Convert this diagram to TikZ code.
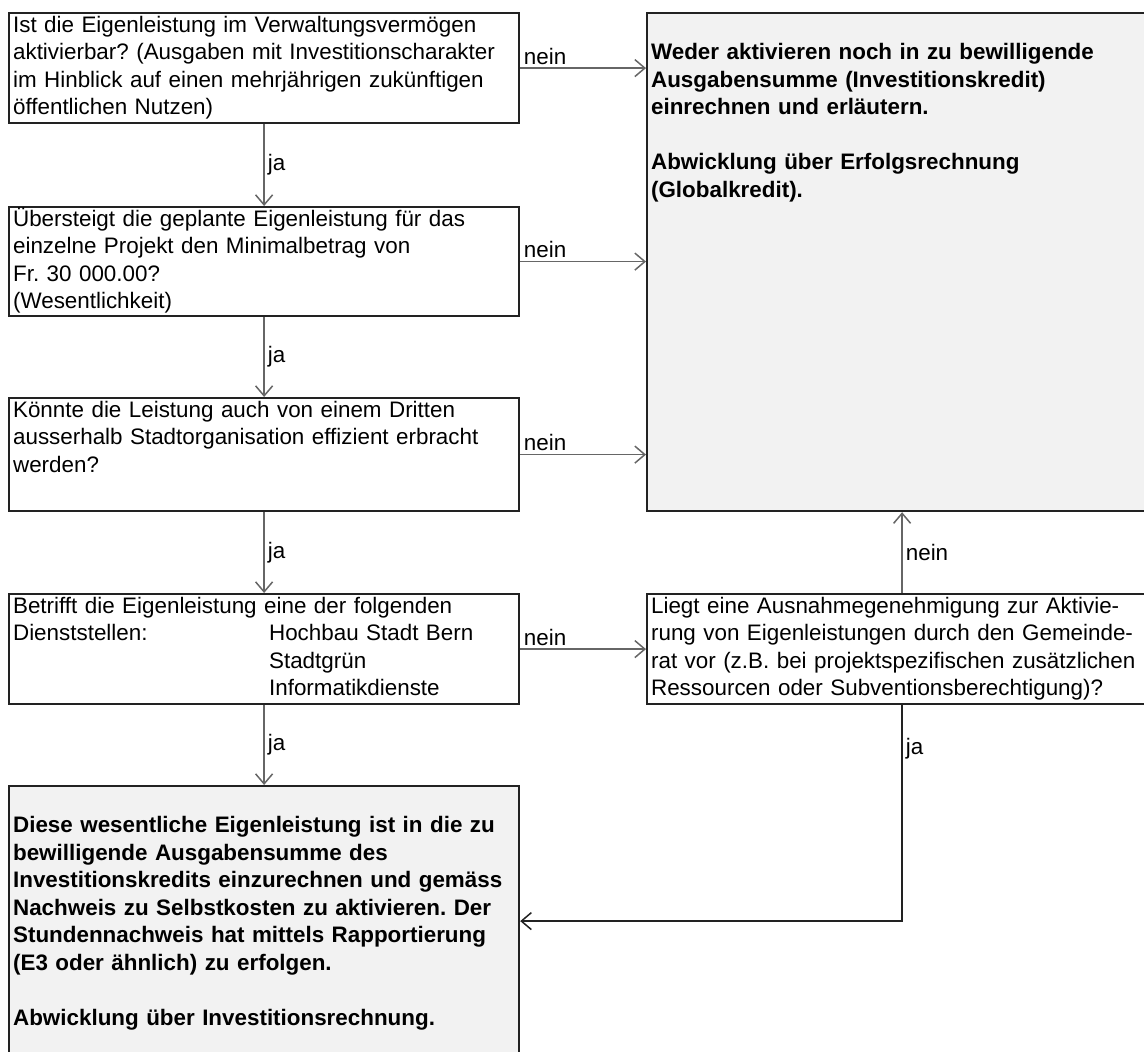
\documentclass[tikz,border=0pt]{standalone}
\usepackage{fontspec}
\setmainfont{Liberation Sans}
\usepackage{tikz}
\usetikzlibrary{arrows.meta}
\usetikzlibrary{positioning}
\frenchspacing

\definecolor{boxgray}{HTML}{F2F2F2}
\definecolor{boxline}{HTML}{222222}
\definecolor{linegray}{HTML}{666666}

\newcommand{\flowfont}{\fontsize{11.2}{13.75}\selectfont}

\tikzset{
  qbox/.style={draw=boxline, line width=1.1pt, anchor=north west, align=left,
    inner xsep=2pt, inner ysep=1pt, text width=251pt,
    text height=8.5pt, text depth=#1, font=\flowfont},
  abox/.style={qbox=#1, fill=boxgray, font=\flowfont\bfseries},
  arr/.style={draw=linegray, line width=0.75pt, -{Straight Barb[length=5pt, width=8.5pt]}},
  lbl/.style={inner sep=1.5pt, font=\flowfont}
}

\begin{document}
\begin{tikzpicture}[x=0.5pt, y=-0.5pt]
    \useasboundingbox (0, 0) rectangle (1144, 1052);

    % questions on the left
    \node[qbox=44.5pt] (q1) at (8, 12) {Ist die Eigenleistung im Verwaltungsverm\"ogen\\
      aktivierbar? (Ausgaben mit Investitionscharakter\\
      im Hinblick auf einen mehrj\"ahrigen zuk\"unftigen\\
      \"offentlichen Nutzen)};
    \node[qbox=44pt] (q2) at (8, 206) {\"Ubersteigt die geplante Eigenleistung f\"ur das\\
      einzelne Projekt den Minimalbetrag von\\
      Fr. 30 000.00?\\
      (Wesentlichkeit)};
    \node[qbox=46pt] (q3) at (8, 397) {K\"onnte die Leistung auch von einem Dritten\\
      ausserhalb Stadtorganisation effizient erbracht\\
      werden?};
    \node[qbox=44.5pt] (q4) at (8, 593) {Betrifft die Eigenleistung eine der folgenden\\
      \makebox[128pt][l]{Dienststellen:}Hochbau Stadt Bern\\
      \hspace*{128pt}Stadtgr\"un\\
      \hspace*{128pt}Informatikdienste};
    \node[qbox=44.5pt] (q5) at (646, 593) {Liegt eine Ausnahmegenehmigung zur Aktivie-\\
      rung von Eigenleistungen durch den Gemeinde-\\
      rat vor (z.B. bei projektspezifischen zus\"atzlichen\\
      Ressourcen oder Subventionsberechtigung)?};

    % results
    \node[abox=238.5pt] (r1) at (646, 12) {\mbox{}\\
      Weder aktivieren noch in zu bewilligende\\
      Ausgabensumme (Investitionskredit)\\
      einrechnen und erl\"autern.\\[13.75pt]
      Abwicklung \"uber Erfolgsrechnung\\
      (Globalkredit).};
    \node[abox=124.5pt] (r2) at (8, 785) {\mbox{}\\
      Diese wesentliche Eigenleistung ist in die zu\\
      bewilligende Ausgabensumme des\\
      Investitionskredits einzurechnen und gem\"ass\\
      Nachweis zu Selbstkosten zu aktivieren. Der\\
      Stundennachweis hat mittels Rapportierung\\
      (E3 oder \"ahnlich) zu erfolgen.\\[13.75pt]
      Abwicklung \"uber Investitionsrechnung.};

    \draw[arr] (q1) -- node[lbl, right] {ja} (q2);
    \draw[arr] (q2) -- node[lbl, right] {ja} (q3);
    \draw[arr] (q3) -- node[lbl, right] {ja} (q4);
    \draw[arr] (q4) -- node[lbl, right] {ja} (r2);

    \draw[arr] (q1.east) -- node[lbl, above right, pos=0] {nein} (q1.east -| r1.west);
    \draw[arr] (q2.east) -- node[lbl, above right, pos=0] {nein} (q2.east -| r1.west);
    \draw[arr] (q3.east) -- node[lbl, above right, pos=0] {nein} (q3.east -| r1.west);
    \draw[arr] (q4.east) -- node[lbl, above right, pos=0] {nein} (q5.west);

    \draw[arr] (q5) -- node[lbl, right] {nein} (r1);
    \draw[arr, draw=boxline] (q5.south) |- node[lbl, right, pos=0.1] {ja} (r2.east);
\end{tikzpicture}
\end{document}
